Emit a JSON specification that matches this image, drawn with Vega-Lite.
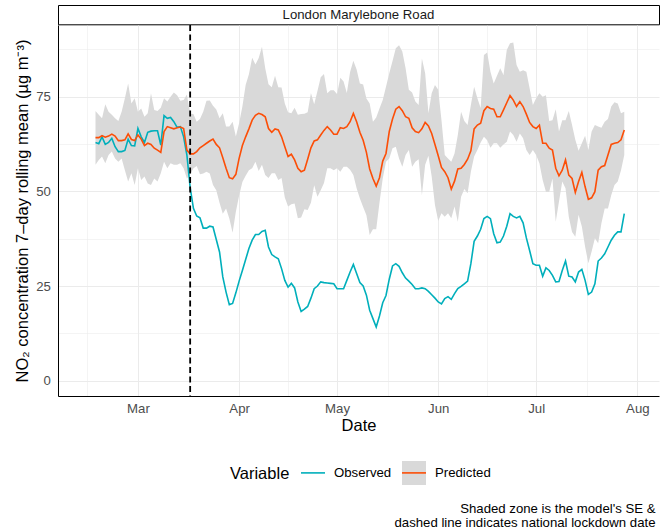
{
  "$schema": "https://vega.github.io/schema/vega-lite/v6.json",
  "background": "white",
  "padding": {"left": 14, "top": 4, "right": 2, "bottom": 4},
  "autosize": {"type": "pad"},
  "config": {
    "font": "Liberation Sans",
    "view": {"stroke": null},
    "axis": {"labelFont": "Liberation Sans", "titleFont": "Liberation Sans"},
    "legend": {"labelFont": "Liberation Sans", "titleFont": "Liberation Sans"}
  },
  "title": {
    "text": ["Shaded zone is the model's SE &", "dashed line indicates national lockdown date"],
    "orient": "bottom",
    "anchor": "end",
    "fontSize": 13.2,
    "fontWeight": "normal",
    "color": "black",
    "lineHeight": 14.5,
    "offset": 14,
    "dx": -4
  },
  "spacing": 0,
  "bounds": "flush",
  "vconcat": [
    {
      "width": 601,
      "height": 19.3,
      "view": {"stroke": "black", "strokeWidth": 1, "fill": "white"},
      "data": {"values": [{"site": "London Marylebone Road"}]},
      "mark": {"type": "text", "fontSize": 13.2, "color": "#1A1A1A", "baseline": "middle", "align": "center"},
      "encoding": {"text": {"field": "site"}}
    },
    {
      "width": 601,
      "height": 371,
      "data": {
        "format": {"parse": {"date": "utc:'%Y-%m-%d'"}},
        "values": [
          {"date": "2020-02-17", "Observed": 62.9, "Predicted": 64.2, "lo": 57.0, "hi": 71.2},
          {"date": "2020-02-18", "Observed": 62.6, "Predicted": 64.2, "lo": 58.3, "hi": 70.2},
          {"date": "2020-02-19", "Observed": 64.4, "Predicted": 64.7, "lo": 59.2, "hi": 69.3},
          {"date": "2020-02-20", "Observed": 62.4, "Predicted": 64.3, "lo": 57.4, "hi": 73.0},
          {"date": "2020-02-21", "Observed": 62.9, "Predicted": 64.6, "lo": 59.6, "hi": 71.0},
          {"date": "2020-02-22", "Observed": 64.0, "Predicted": 65.1, "lo": 60.5, "hi": 70.2},
          {"date": "2020-02-23", "Observed": 61.8, "Predicted": 64.6, "lo": 58.7, "hi": 69.3},
          {"date": "2020-02-24", "Observed": 60.5, "Predicted": 63.4, "lo": 57.8, "hi": 68.6},
          {"date": "2020-02-25", "Observed": 60.5, "Predicted": 63.4, "lo": 58.7, "hi": 71.0},
          {"date": "2020-02-26", "Observed": 60.8, "Predicted": 63.6, "lo": 55.6, "hi": 74.6},
          {"date": "2020-02-27", "Observed": 63.8, "Predicted": 65.2, "lo": 52.6, "hi": 78.5},
          {"date": "2020-02-28", "Observed": 62.1, "Predicted": 63.7, "lo": 54.8, "hi": 73.2},
          {"date": "2020-02-29", "Observed": 62.0, "Predicted": 63.4, "lo": 51.7, "hi": 74.6},
          {"date": "2020-03-01", "Observed": 66.6, "Predicted": 64.9, "lo": 56.1, "hi": 71.0},
          {"date": "2020-03-02", "Observed": 64.4, "Predicted": 63.8, "lo": 53.0, "hi": 71.9},
          {"date": "2020-03-03", "Observed": 62.9, "Predicted": 62.1, "lo": 53.9, "hi": 69.7},
          {"date": "2020-03-04", "Observed": 65.6, "Predicted": 62.7, "lo": 52.1, "hi": 70.6},
          {"date": "2020-03-05", "Observed": 65.9, "Predicted": 62.4, "lo": 51.7, "hi": 75.9},
          {"date": "2020-03-06", "Observed": 66.0, "Predicted": 61.4, "lo": 53.4, "hi": 71.5},
          {"date": "2020-03-07", "Observed": 66.0, "Predicted": 60.9, "lo": 52.6, "hi": 71.2},
          {"date": "2020-03-08", "Observed": 62.2, "Predicted": 60.3, "lo": 54.8, "hi": 72.1},
          {"date": "2020-03-09", "Observed": 70.0, "Predicted": 65.8, "lo": 57.8, "hi": 74.6},
          {"date": "2020-03-10", "Observed": 69.3, "Predicted": 67.1, "lo": 56.1, "hi": 73.7},
          {"date": "2020-03-11", "Observed": 69.5, "Predicted": 66.8, "lo": 57.4, "hi": 75.0},
          {"date": "2020-03-12", "Observed": 68.4, "Predicted": 66.5, "lo": 57.0, "hi": 76.1},
          {"date": "2020-03-13", "Observed": 66.9, "Predicted": 66.8, "lo": 57.0, "hi": 75.4},
          {"date": "2020-03-14", "Observed": 67.1, "Predicted": 67.0, "lo": 57.4, "hi": 73.9},
          {"date": "2020-03-15", "Observed": 64.4, "Predicted": 66.6, "lo": 56.1, "hi": 74.1},
          {"date": "2020-03-16", "Observed": 59.6, "Predicted": 60.9, "lo": 53.4, "hi": 75.6},
          {"date": "2020-03-17", "Observed": 51.0, "Predicted": 59.9, "lo": 54.5, "hi": 70.5},
          {"date": "2020-03-18", "Observed": 45.5, "Predicted": 59.9, "lo": 56.1, "hi": 70.4},
          {"date": "2020-03-19", "Observed": 43.5, "Predicted": 60.5, "lo": 56.7, "hi": 68.4},
          {"date": "2020-03-20", "Observed": 43.0, "Predicted": 61.5, "lo": 54.5, "hi": 69.1},
          {"date": "2020-03-21", "Observed": 40.3, "Predicted": 62.1, "lo": 54.7, "hi": 71.0},
          {"date": "2020-03-22", "Observed": 40.3, "Predicted": 62.7, "lo": 55.2, "hi": 73.9},
          {"date": "2020-03-23", "Observed": 40.8, "Predicted": 63.3, "lo": 54.7, "hi": 74.0},
          {"date": "2020-03-24", "Observed": 40.6, "Predicted": 63.8, "lo": 51.7, "hi": 72.6},
          {"date": "2020-03-25", "Observed": 37.3, "Predicted": 62.4, "lo": 50.3, "hi": 71.6},
          {"date": "2020-03-26", "Observed": 34.0, "Predicted": 61.5, "lo": 47.0, "hi": 69.3},
          {"date": "2020-03-27", "Observed": 27.4, "Predicted": 58.9, "lo": 44.1, "hi": 70.6},
          {"date": "2020-03-28", "Observed": 23.4, "Predicted": 56.1, "lo": 45.5, "hi": 67.1},
          {"date": "2020-03-29", "Observed": 20.1, "Predicted": 53.6, "lo": 42.8, "hi": 67.1},
          {"date": "2020-03-30", "Observed": 20.4, "Predicted": 53.3, "lo": 39.1, "hi": 68.4},
          {"date": "2020-03-31", "Observed": 23.2, "Predicted": 54.5, "lo": 44.6, "hi": 64.5},
          {"date": "2020-04-01", "Observed": 26.3, "Predicted": 58.7, "lo": 48.9, "hi": 68.0},
          {"date": "2020-04-02", "Observed": 29.1, "Predicted": 62.1, "lo": 52.5, "hi": 72.4},
          {"date": "2020-04-03", "Observed": 32.0, "Predicted": 64.4, "lo": 54.1, "hi": 78.1},
          {"date": "2020-04-04", "Observed": 34.9, "Predicted": 66.5, "lo": 55.6, "hi": 80.9},
          {"date": "2020-04-05", "Observed": 37.1, "Predicted": 68.8, "lo": 56.1, "hi": 85.3},
          {"date": "2020-04-06", "Observed": 38.6, "Predicted": 70.1, "lo": 57.8, "hi": 83.5},
          {"date": "2020-04-07", "Observed": 38.6, "Predicted": 70.6, "lo": 55.4, "hi": 85.2},
          {"date": "2020-04-08", "Observed": 39.4, "Predicted": 70.3, "lo": 57.0, "hi": 88.2},
          {"date": "2020-04-09", "Observed": 39.7, "Predicted": 69.7, "lo": 54.3, "hi": 82.5},
          {"date": "2020-04-10", "Observed": 35.3, "Predicted": 66.6, "lo": 53.5, "hi": 78.3},
          {"date": "2020-04-11", "Observed": 33.3, "Predicted": 65.6, "lo": 54.8, "hi": 77.5},
          {"date": "2020-04-12", "Observed": 32.7, "Predicted": 66.5, "lo": 54.8, "hi": 80.5},
          {"date": "2020-04-13", "Observed": 32.2, "Predicted": 66.2, "lo": 53.0, "hi": 77.5},
          {"date": "2020-04-14", "Observed": 29.6, "Predicted": 64.4, "lo": 53.5, "hi": 77.4},
          {"date": "2020-04-15", "Observed": 26.5, "Predicted": 61.8, "lo": 48.4, "hi": 73.2},
          {"date": "2020-04-16", "Observed": 24.7, "Predicted": 59.2, "lo": 46.0, "hi": 70.9},
          {"date": "2020-04-17", "Observed": 25.7, "Predicted": 59.8, "lo": 46.6, "hi": 70.6},
          {"date": "2020-04-18", "Observed": 24.5, "Predicted": 58.3, "lo": 46.8, "hi": 72.1},
          {"date": "2020-04-19", "Observed": 20.8, "Predicted": 56.1, "lo": 42.9, "hi": 70.2},
          {"date": "2020-04-20", "Observed": 18.3, "Predicted": 55.2, "lo": 43.1, "hi": 70.4},
          {"date": "2020-04-21", "Observed": 18.9, "Predicted": 55.6, "lo": 45.3, "hi": 70.5},
          {"date": "2020-04-22", "Observed": 19.6, "Predicted": 58.5, "lo": 45.1, "hi": 70.9},
          {"date": "2020-04-23", "Observed": 21.8, "Predicted": 61.5, "lo": 47.0, "hi": 76.0},
          {"date": "2020-04-24", "Observed": 24.3, "Predicted": 63.3, "lo": 51.6, "hi": 73.0},
          {"date": "2020-04-25", "Observed": 25.0, "Predicted": 63.6, "lo": 48.6, "hi": 76.5},
          {"date": "2020-04-26", "Observed": 26.1, "Predicted": 64.9, "lo": 50.3, "hi": 80.1},
          {"date": "2020-04-27", "Observed": 25.9, "Predicted": 66.1, "lo": 52.2, "hi": 81.0},
          {"date": "2020-04-28", "Observed": 25.8, "Predicted": 67.1, "lo": 56.1, "hi": 75.9},
          {"date": "2020-04-29", "Observed": 25.7, "Predicted": 66.2, "lo": 56.1, "hi": 76.7},
          {"date": "2020-04-30", "Observed": 25.6, "Predicted": 65.1, "lo": 55.6, "hi": 76.7},
          {"date": "2020-05-01", "Observed": 24.3, "Predicted": 65.1, "lo": 56.1, "hi": 75.7},
          {"date": "2020-05-02", "Observed": 24.3, "Predicted": 66.8, "lo": 55.2, "hi": 80.0},
          {"date": "2020-05-03", "Observed": 24.3, "Predicted": 66.6, "lo": 56.5, "hi": 79.0},
          {"date": "2020-05-04", "Observed": 26.5, "Predicted": 67.1, "lo": 56.5, "hi": 76.0},
          {"date": "2020-05-05", "Observed": 28.7, "Predicted": 68.4, "lo": 55.7, "hi": 81.5},
          {"date": "2020-05-06", "Observed": 30.7, "Predicted": 70.6, "lo": 54.3, "hi": 84.5},
          {"date": "2020-05-07", "Observed": 28.3, "Predicted": 68.4, "lo": 50.8, "hi": 82.2},
          {"date": "2020-05-08", "Observed": 25.9, "Predicted": 65.6, "lo": 48.1, "hi": 78.5},
          {"date": "2020-05-09", "Observed": 25.0, "Predicted": 63.5, "lo": 45.9, "hi": 78.2},
          {"date": "2020-05-10", "Observed": 22.6, "Predicted": 60.3, "lo": 43.7, "hi": 74.5},
          {"date": "2020-05-11", "Observed": 18.6, "Predicted": 55.9, "lo": 38.5, "hi": 73.2},
          {"date": "2020-05-12", "Observed": 16.4, "Predicted": 53.4, "lo": 40.0, "hi": 68.4},
          {"date": "2020-05-13", "Observed": 14.2, "Predicted": 51.4, "lo": 40.0, "hi": 69.5},
          {"date": "2020-05-14", "Observed": 17.1, "Predicted": 53.6, "lo": 47.0, "hi": 71.9},
          {"date": "2020-05-15", "Observed": 20.6, "Predicted": 58.0, "lo": 53.4, "hi": 74.1},
          {"date": "2020-05-16", "Observed": 22.5, "Predicted": 60.0, "lo": 57.8, "hi": 77.6},
          {"date": "2020-05-17", "Observed": 26.8, "Predicted": 65.8, "lo": 58.7, "hi": 81.2},
          {"date": "2020-05-18", "Observed": 30.3, "Predicted": 69.1, "lo": 61.4, "hi": 84.4},
          {"date": "2020-05-19", "Observed": 30.9, "Predicted": 71.7, "lo": 61.8, "hi": 87.8},
          {"date": "2020-05-20", "Observed": 30.2, "Predicted": 72.4, "lo": 58.7, "hi": 88.6},
          {"date": "2020-05-21", "Observed": 28.5, "Predicted": 71.3, "lo": 56.5, "hi": 86.9},
          {"date": "2020-05-22", "Observed": 27.1, "Predicted": 69.7, "lo": 59.6, "hi": 82.5},
          {"date": "2020-05-23", "Observed": 26.3, "Predicted": 69.3, "lo": 60.9, "hi": 76.8},
          {"date": "2020-05-24", "Observed": 25.4, "Predicted": 66.8, "lo": 56.5, "hi": 76.1},
          {"date": "2020-05-25", "Observed": 24.3, "Predicted": 65.8, "lo": 57.8, "hi": 73.7},
          {"date": "2020-05-26", "Observed": 24.3, "Predicted": 65.5, "lo": 58.5, "hi": 72.8},
          {"date": "2020-05-27", "Observed": 24.5, "Predicted": 66.5, "lo": 49.0, "hi": 85.1},
          {"date": "2020-05-28", "Observed": 24.3, "Predicted": 68.2, "lo": 57.0, "hi": 81.2},
          {"date": "2020-05-29", "Observed": 23.6, "Predicted": 67.3, "lo": 59.4, "hi": 70.6},
          {"date": "2020-05-30", "Observed": 22.7, "Predicted": 65.3, "lo": 53.9, "hi": 75.9},
          {"date": "2020-05-31", "Observed": 21.8, "Predicted": 62.4, "lo": 46.4, "hi": 78.1},
          {"date": "2020-06-01", "Observed": 20.8, "Predicted": 59.4, "lo": 42.2, "hi": 76.8},
          {"date": "2020-06-02", "Observed": 20.3, "Predicted": 56.3, "lo": 44.2, "hi": 68.8},
          {"date": "2020-06-03", "Observed": 21.7, "Predicted": 55.2, "lo": 43.3, "hi": 59.6},
          {"date": "2020-06-04", "Observed": 22.2, "Predicted": 53.6, "lo": 44.2, "hi": 58.7},
          {"date": "2020-06-05", "Observed": 21.5, "Predicted": 50.6, "lo": 42.9, "hi": 57.8},
          {"date": "2020-06-06", "Observed": 23.0, "Predicted": 52.7, "lo": 46.0, "hi": 60.0},
          {"date": "2020-06-07", "Observed": 24.3, "Predicted": 55.9, "lo": 42.0, "hi": 64.9},
          {"date": "2020-06-08", "Observed": 24.9, "Predicted": 56.1, "lo": 48.6, "hi": 71.0},
          {"date": "2020-06-09", "Observed": 25.6, "Predicted": 57.1, "lo": 50.6, "hi": 68.6},
          {"date": "2020-06-10", "Observed": 26.3, "Predicted": 58.5, "lo": 49.5, "hi": 67.5},
          {"date": "2020-06-11", "Observed": 30.9, "Predicted": 60.7, "lo": 55.2, "hi": 72.8},
          {"date": "2020-06-12", "Observed": 36.8, "Predicted": 66.5, "lo": 59.2, "hi": 77.6},
          {"date": "2020-06-13", "Observed": 38.2, "Predicted": 67.5, "lo": 60.9, "hi": 74.6},
          {"date": "2020-06-14", "Observed": 40.0, "Predicted": 68.0, "lo": 62.9, "hi": 72.0},
          {"date": "2020-06-15", "Observed": 42.8, "Predicted": 71.3, "lo": 64.4, "hi": 86.0},
          {"date": "2020-06-16", "Observed": 43.4, "Predicted": 72.4, "lo": 63.5, "hi": 86.7},
          {"date": "2020-06-17", "Observed": 42.8, "Predicted": 71.9, "lo": 61.5, "hi": 81.6},
          {"date": "2020-06-18", "Observed": 38.8, "Predicted": 71.7, "lo": 62.7, "hi": 78.5},
          {"date": "2020-06-19", "Observed": 36.4, "Predicted": 69.7, "lo": 62.7, "hi": 80.5},
          {"date": "2020-06-20", "Observed": 36.6, "Predicted": 69.7, "lo": 61.5, "hi": 82.5},
          {"date": "2020-06-21", "Observed": 38.2, "Predicted": 71.5, "lo": 62.4, "hi": 80.7},
          {"date": "2020-06-22", "Observed": 40.8, "Predicted": 73.4, "lo": 63.1, "hi": 87.3},
          {"date": "2020-06-23", "Observed": 44.1, "Predicted": 75.3, "lo": 65.8, "hi": 89.1},
          {"date": "2020-06-24", "Observed": 43.4, "Predicted": 74.1, "lo": 64.9, "hi": 89.3},
          {"date": "2020-06-25", "Observed": 43.0, "Predicted": 72.4, "lo": 63.1, "hi": 83.4},
          {"date": "2020-06-26", "Observed": 43.4, "Predicted": 73.7, "lo": 65.3, "hi": 81.6},
          {"date": "2020-06-27", "Observed": 41.7, "Predicted": 72.4, "lo": 64.0, "hi": 82.0},
          {"date": "2020-06-28", "Observed": 37.7, "Predicted": 70.4, "lo": 60.9, "hi": 81.6},
          {"date": "2020-06-29", "Observed": 34.4, "Predicted": 68.2, "lo": 59.6, "hi": 77.2},
          {"date": "2020-06-30", "Observed": 30.9, "Predicted": 67.1, "lo": 60.9, "hi": 72.8},
          {"date": "2020-07-01", "Observed": 30.5, "Predicted": 66.6, "lo": 59.6, "hi": 74.6},
          {"date": "2020-07-02", "Observed": 30.5, "Predicted": 67.5, "lo": 57.4, "hi": 75.9},
          {"date": "2020-07-03", "Observed": 27.6, "Predicted": 62.7, "lo": 53.0, "hi": 75.0},
          {"date": "2020-07-04", "Observed": 29.8, "Predicted": 62.7, "lo": 49.9, "hi": 75.4},
          {"date": "2020-07-05", "Observed": 29.1, "Predicted": 61.4, "lo": 49.9, "hi": 68.6},
          {"date": "2020-07-06", "Observed": 27.8, "Predicted": 60.9, "lo": 53.4, "hi": 68.8},
          {"date": "2020-07-07", "Observed": 26.1, "Predicted": 56.1, "lo": 42.0, "hi": 71.7},
          {"date": "2020-07-08", "Observed": 26.2, "Predicted": 54.1, "lo": 47.3, "hi": 65.8},
          {"date": "2020-07-09", "Observed": 29.1, "Predicted": 55.6, "lo": 52.6, "hi": 68.8},
          {"date": "2020-07-10", "Observed": 31.6, "Predicted": 58.3, "lo": 50.8, "hi": 68.8},
          {"date": "2020-07-11", "Observed": 27.6, "Predicted": 54.3, "lo": 43.3, "hi": 71.2},
          {"date": "2020-07-12", "Observed": 27.4, "Predicted": 53.4, "lo": 39.3, "hi": 67.5},
          {"date": "2020-07-13", "Observed": 26.1, "Predicted": 49.7, "lo": 38.0, "hi": 63.6},
          {"date": "2020-07-14", "Observed": 28.7, "Predicted": 52.6, "lo": 43.8, "hi": 60.7},
          {"date": "2020-07-15", "Observed": 29.4, "Predicted": 55.0, "lo": 40.7, "hi": 62.7},
          {"date": "2020-07-16", "Observed": 26.5, "Predicted": 51.2, "lo": 35.4, "hi": 64.7},
          {"date": "2020-07-17", "Observed": 22.8, "Predicted": 47.9, "lo": 31.0, "hi": 60.9},
          {"date": "2020-07-18", "Observed": 23.4, "Predicted": 48.3, "lo": 34.1, "hi": 65.8},
          {"date": "2020-07-19", "Observed": 25.6, "Predicted": 49.9, "lo": 37.6, "hi": 67.5},
          {"date": "2020-07-20", "Observed": 31.6, "Predicted": 55.6, "lo": 36.3, "hi": 67.1},
          {"date": "2020-07-21", "Observed": 32.4, "Predicted": 56.5, "lo": 41.6, "hi": 66.8},
          {"date": "2020-07-22", "Observed": 33.5, "Predicted": 56.8, "lo": 45.5, "hi": 68.4},
          {"date": "2020-07-23", "Observed": 35.3, "Predicted": 59.6, "lo": 45.5, "hi": 69.1},
          {"date": "2020-07-24", "Observed": 37.1, "Predicted": 62.4, "lo": 49.0, "hi": 72.4},
          {"date": "2020-07-25", "Observed": 38.4, "Predicted": 62.7, "lo": 51.7, "hi": 73.5},
          {"date": "2020-07-26", "Observed": 39.3, "Predicted": 62.9, "lo": 52.6, "hi": 73.2},
          {"date": "2020-07-27", "Observed": 39.3, "Predicted": 63.6, "lo": 55.6, "hi": 70.6},
          {"date": "2020-07-28", "Observed": 44.1, "Predicted": 66.2, "lo": 59.6, "hi": 71.0}
        ]
      },
      "resolve": {"axis": {"x": "independent", "y": "independent"}},
      "layer": [
        {
          "mark": {"type": "area", "color": "#D9D9D9", "opacity": 1},
          "encoding": {
            "x": {
              "field": "date", "type": "temporal",
              "scale": {"type": "utc", "domain": [1580904864000, 1596813696000], "nice": false},
              "axis": {
                "title": "Date", "titleFontSize": 16.5, "titleFontWeight": "normal", "titleColor": "black", "titlePadding": 3,
                "values": [1583020800000, 1585699200000, 1588291200000, 1590969600000, 1593561600000, 1596240000000],
                "format": "%b", "labelFontSize": 13.2, "labelColor": "#4D4D4D", "labelPadding": 6.5,
                "ticks": false, "domainColor": "black", "domainWidth": 1,
                "grid": true, "gridColor": "#EBEBEB", "gridWidth": 1.07
              }
            },
            "y": {
              "field": "lo", "type": "quantitative",
              "scale": {"domain": [-4.04, 93.93], "nice": false, "zero": false},
              "axis": {
                "title": "NO₂ concentration 7–day rolling mean (µg m⁻³)", "titleFontSize": 16.5, "titleFontWeight": "normal", "titleColor": "black", "titleX": -28,
                "values": [0, 25, 50, 75], "labelFontSize": 13.2, "labelColor": "#4D4D4D", "labelPadding": 7.6,
                "ticks": false, "domainColor": "black", "domainWidth": 1,
                "grid": true, "gridColor": "#EBEBEB", "gridWidth": 1.07
              }
            },
            "y2": {"field": "hi"}
          }
        },
        {
          "transform": [{"fold": ["Observed", "Predicted"], "as": ["Variable", "value"]}],
          "mark": {"type": "line", "strokeWidth": 1.6},
          "encoding": {
            "x": {
              "field": "date", "type": "temporal",
              "scale": {"type": "utc", "domain": [1580904864000, 1596813696000], "nice": false},
              "axis": {
                "orient": "top", "title": null, "labels": false, "ticks": false, "domain": false,
                "values": [1581681600000, 1584360000000, 1586995200000, 1589630400000, 1592265600000, 1594900800000],
                "grid": true, "gridColor": "#EBEBEB", "gridWidth": 0.55
              }
            },
            "y": {
              "field": "value", "type": "quantitative",
              "scale": {"domain": [-4.04, 93.93], "nice": false, "zero": false},
              "axis": {
                "orient": "right", "title": null, "labels": false, "ticks": false, "domain": false,
                "values": [12.5, 37.5, 62.5, 87.5],
                "grid": true, "gridColor": "#EBEBEB", "gridWidth": 0.55
              }
            },
            "color": {
              "field": "Variable", "type": "nominal",
              "scale": {"domain": ["Observed", "Predicted"], "range": ["#00AFBB", "#FC4E07"]},
              "legend": {
                "title": "Variable", "orient": "none", "legendX": 172, "legendY": 454.5,
                "direction": "horizontal", "titleOrient": "left", "titleAnchor": "middle", "titleBaseline": "middle",
                "titleFontSize": 16.5, "titleFontWeight": "normal", "titleColor": "black", "titlePadding": 10,
                "labelFontSize": 13.2, "labelColor": "black", "labelOffset": 8, "columnPadding": 6,
                "symbolType": "M-1,0H1V-1H-1V1H1V0", "symbolSize": 576, "symbolStrokeWidth": 1.6,
                "symbolDash": [24, 400], "symbolOpacity": 1,
                "encode": {
                  "symbols": {
                    "update": {
                      "fill": {"signal": "datum.value === 'Predicted' ? '#D9D9D9' : 'transparent'"}
                    }
                  }
                }
              }
            }
          }
        },
        {
          "data": {"format": {"parse": {"date": "utc:'%Y-%m-%d'"}}, "values": [{"event": "National lockdown", "date": "2020-03-17"}]},
          "mark": {"type": "rule", "color": "black", "strokeWidth": 1.8, "strokeDash": [6, 3.5]},
          "encoding": {
            "x": {
              "field": "date", "type": "temporal",
              "scale": {"type": "utc", "domain": [1580904864000, 1596813696000], "nice": false},
              "axis": null
            }
          }
        }
      ]
    }
  ]
}
